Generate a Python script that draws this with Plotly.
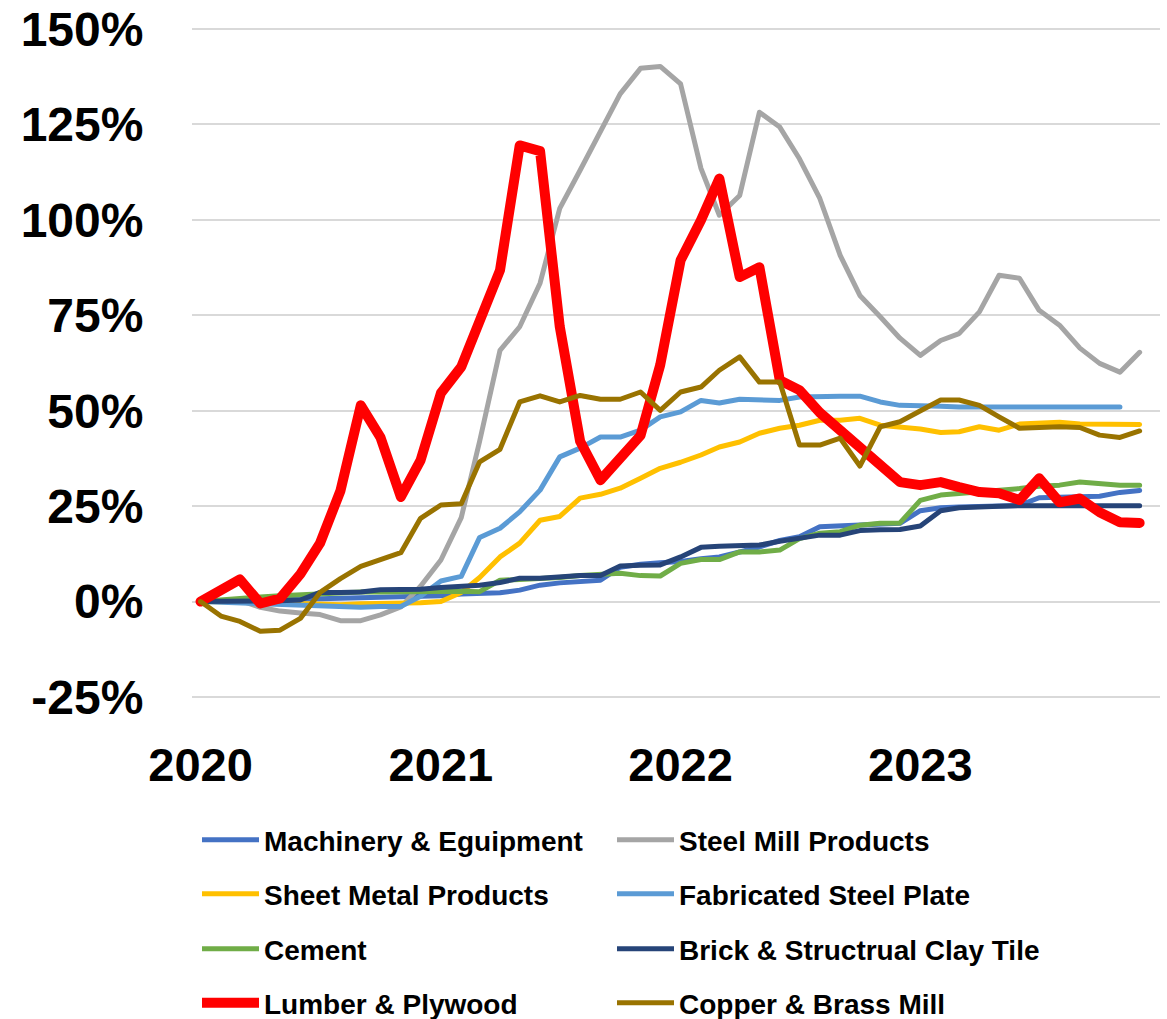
import plotly.graph_objects as go

months = [f"{y}-{m:02d}-01" for y in (2020, 2021, 2022, 2023) for m in range(1, 13)]
year_ticks = ["2020-01-01", "2021-01-01", "2022-01-01", "2023-01-01"]
year_labels = ["2020", "2021", "2022", "2023"]
pct_ticks = [-25, 0, 25, 50, 75, 100, 125, 150]
pct_labels = ["-25%", "0%", "25%", "50%", "75%", "100%", "125%", "150%"]

machinery = [0, 0, 0.2, 0.3, 0.5, 0.6, 0.8, 0.9, 1, 1, 1.1, 1.2,
             1.5, 2, 2.1, 2.3, 3, 4.3, 4.9, 5.2, 5.6, 9, 9.8, 10.2,
             10.5, 11.2, 11.7, 13, 14.3, 16, 17, 19.6, 19.8, 20.2, 20.4, 20.5,
             23.8, 24.6, 24.8, 25, 25, 25.2, 27.2, 27.4, 27.4, 27.6, 28.6, 29.1]
steel = [0, 0.2, 0.3, -1.5, -2.5, -3, -3.4, -5, -5, -3.5, -1.4, 4,
         10.9, 22, 42, 65.8, 72, 83.4, 103, 113, 123.4, 133, 139.7, 140.2,
         135.6, 113.5, 101.2, 106.4, 128.2, 124.3, 116, 105.6, 90.7, 80.2, 74.6, 69,
         64.5, 68.4, 70.2, 75.9, 85.5, 84.7, 76.3, 72.4, 66.4, 62.4, 60.1, 65.3]
sheet = [0, 0, 0, 0, -0.3, -0.5, -0.7, -0.8, -0.6, -0.6, -0.5, -0.3,
         0, 2.4, 6.3, 11.7, 15.3, 21.3, 22.3, 27.1, 28.1, 29.7, 32.3, 34.9,
         36.5, 38.4, 40.5, 41.8, 44.1, 45.4, 46.2, 47.5, 47.5, 48, 46.2, 45.8,
         45.2, 44.3, 44.5, 45.8, 44.9, 46.5, 46.7, 47, 46.5, 46.5, 46.2, 46.4]
fabricated = [0, -0.2, -0.3, -0.5, -0.8, -0.9, -1.2, -1.2, -1.5, -1.3, -1.3, 1.4,
              5.4, 6.6, 16.8, 19.2, 23.5, 29.2, 37.9, 40.2, 43.1, 43.1, 44.9, 48.4,
              49.7, 52.7, 52, 53, 52.7, 52.7, 53.6, 53.8, 53.8, 53.8, 52.3, 51.4,
              51.4, 51.2, 51, 51, 51, 51, 51, 51, 51, 51, 51, None]
cement = [0, 0.5, 0.8, 1.2, 1.5, 1.8, 2.2, 2.4, 2.5, 2.5, 2.6, 2.6,
          2.6, 2.7, 2.6, 5.6, 5.8, 6, 6.3, 6.8, 7.2, 7.4, 6.8, 6.7,
          10, 11, 11, 13, 13, 13.5, 16.5, 17.9, 18.3, 20, 20.5, 20.6,
          26.5, 27.9, 28.3, 28.7, 29, 29.6, 30.2, 30.5, 31.3, 30.8, 30.5, 30.5]
brick = [0, 0, 0, 0, 0.2, 0.4, 2.4, 2.4, 2.5, 3.1, 3.2, 3.2,
         3.7, 3.9, 4.3, 5, 6.1, 6.1, 6.5, 6.8, 6.8, 9.3, 9.5, 9.6,
         11.7, 14.2, 14.5, 14.8, 14.8, 15.8, 16.5, 17.4, 17.4, 18.6, 18.8, 18.9,
         19.8, 23.8, 24.6, 24.9, 25, 25.1, 25.1, 25.1, 25.1, 25.1, 25.1, 25.1]
lumber = [0, 3, 5.8, -0.5, 0.8, 7.2, 15.3, 29, 51.4, 43, 27.4, 37,
          54.6, 61.5, 73, 86.8, 119.5, 118, 72, 42, 31.8, 37.5, 43.5, 62,
          89.4, 99.9, 110.8, 85, 87.6, 58, 55.4, 49.5, 45, 40.5, 36.2, 31.3,
          30.5, 31.3, 30, 28.7, 28.4, 26.6, 32.3, 26, 27, 23.4, 20.8, 20.6]
copper = [0, -3.8, -5.2, -7.8, -7.5, -4.4, 2.4, 6, 9.2, 11, 12.8, 21.8,
          25.3, 25.6, 36.6, 39.9, 52.3, 53.9, 52.3, 54, 53, 53, 54.9, 50.1,
          54.9, 56.2, 60.6, 64.1, 57.5, 57.5, 41, 41, 42.8, 35.5, 45.8, 47.1,
          50.1, 52.8, 52.8, 51.4, 48.4, 45.4, 45.6, 45.8, 45.6, 43.6, 43, 44.7]

series_names = ["Machinery & Eguipment", "Steel Mill Products", "Sheet Metal Products",
                "Fabricated Steel Plate", "Cement", "Brick & Structrual Clay Tile",
                "Lumber & Plywood", "Copper & Brass Mill"]
series_values = [machinery, steel, sheet, fabricated, cement, brick, lumber, copper]
series_colors = ["#4472C4", "#A5A5A5", "#FFC000", "#5B9BD5", "#70AD47", "#264478",
                 "#FF0000", "#997300"]
series_widths = [5, 5, 5, 5, 5, 5, 10, 5]

FONT = "Liberation Sans, Arial, sans-serif"

fig = go.Figure()
for i, (name, vals, col, w) in enumerate(zip(series_names, series_values, series_colors, series_widths)):
    fig.add_trace(go.Scatter(
        x=months, y=vals, name=name, mode="lines",
        line=dict(color=col, width=w),
        legend="legend" if i == 0 else f"legend{i+1}",
    ))

# plot box in pixels: the -25% / 150% gridlines sit at y=697 / y=29
plot_top, plot_bottom, plot_left, plot_right = 27, 699, 192, 1160
px_per_pct = (697 - 29) / 175.0
y_top = 150 + (29 - plot_top) / px_per_pct
y_bottom = -25 - (plot_bottom - 697) / px_per_pct

# legend placement: two columns, four rows
row_px = [840, 894, 949, 1003]
col_px = [197, 612]
legends = {}
for i in range(8):
    r, c = divmod(i, 2)
    key = "legend" if i == 0 else f"legend{i+1}"
    legends[key] = dict(
        x=(col_px[c] - plot_left) / (plot_right - plot_left),
        y=(plot_bottom - row_px[r]) / (plot_bottom - plot_top),
        xanchor="left", yanchor="middle",
        orientation="v", bgcolor="rgba(0,0,0,0)", borderwidth=0,
        itemwidth=57,
        font=dict(family=FONT, size=28, color="black", weight="bold"),
    )

fig.update_layout(
    width=1167, height=1019,
    margin=dict(l=plot_left, r=1167 - plot_right, t=plot_top, b=1019 - plot_bottom, autoexpand=False),
    plot_bgcolor="white", paper_bgcolor="white",
    showlegend=True,
    **legends,
)
fig.update_xaxes(
    range=["2019-12-19", "2024-01-01"],
    tickvals=year_ticks, ticktext=year_labels,
    showgrid=False, zeroline=False, showline=False,
    ticks="outside", ticklen=25, tickcolor="rgba(0,0,0,0)",
    tickfont=dict(family=FONT, size=47, color="black", weight="bold"),
)
fig.update_yaxes(
    range=[y_bottom, y_top], tickvals=pct_ticks, ticktext=pct_labels,
    showgrid=True, gridcolor="#D9D9D9", gridwidth=1.5,
    zeroline=False, showline=False,
    ticks="outside", ticklen=38, tickcolor="rgba(0,0,0,0)",
    tickfont=dict(family=FONT, size=48, color="black", weight="bold"),
)

post = ("document.body.style.margin='0';document.body.style.overflow='hidden';"
        "document.querySelectorAll('.scatterlayer path.js-line').forEach(function(p){"
        "p.style.strokeLinejoin='round';p.style.strokeLinecap='round';});")
fig.write_html("out.html", post_script=post, config={"displayModeBar": False})
